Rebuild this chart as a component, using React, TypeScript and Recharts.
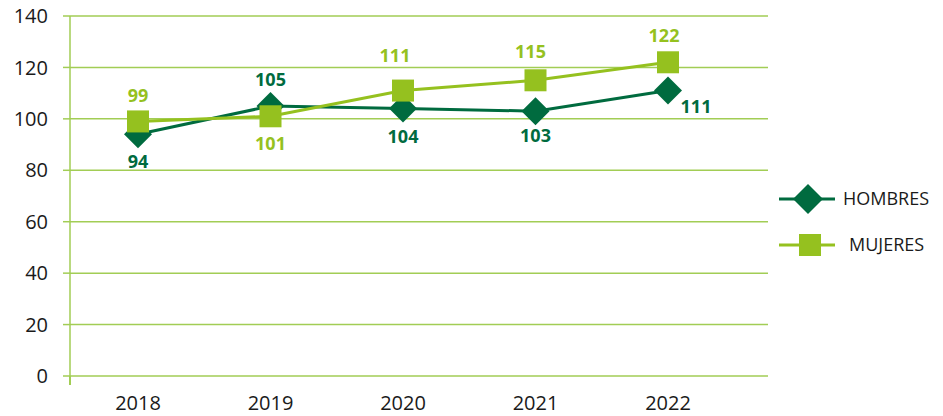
import React from 'react';
import { LineChart, Line, XAxis, YAxis, CartesianGrid, Legend, LabelList } from 'recharts';

const years = ['2018', '2019', '2020', '2021', '2022'];
const hombres = [94, 105, 104, 103, 111];
const mujeres = [99, 101, 111, 115, 122];
const yTicks = [0, 20, 40, 60, 80, 100, 120, 140];

const DARK = '#006b3f';
const LIGHT = '#95c11f';
const GRID = '#a2cd55';
const FONT = '"Open Sans", sans-serif';

const data = years.map((year, i) => ({ year, hombres: hombres[i], mujeres: mujeres[i] }));

// label offsets relative to each point
const hombresOffsets = [
  [0, 27], [0, -26], [0, 28], [0, 25], [28, 16],
];
const mujeresOffsets = [
  [0, -26], [0, 27], [-8, -35], [-5, -29], [-4, -27],
];

const Diamond = (props: any) => {
  const { cx, cy } = props;
  if (cx == null || cy == null) return null;
  const r = 14;
  return <path d={`M${cx},${cy - r}L${cx + r},${cy}L${cx},${cy + r}L${cx - r},${cy}Z`} fill={DARK} />;
};

const Square = (props: any) => {
  const { cx, cy } = props;
  if (cx == null || cy == null) return null;
  const s = 11;
  return <rect x={cx - s} y={cy - s} width={s * 2} height={s * 2} fill={LIGHT} />;
};

const makeLabel = (offsets: number[][], color: string) => (props: any) => {
  const { x, y, value, index } = props;
  const [dx, dy] = offsets[index] || [0, 0];
  return (
    <text x={x + dx} y={y + dy} dy="0.35em" textAnchor="middle" fill={color}
      fontFamily={FONT} fontSize={18} fontWeight={700}>
      {value}
    </text>
  );
};

const LegendBox = () => (
  <svg width={173} height={100}>
    <line x1={9} y1={29} x2={65} y2={29} stroke={DARK} strokeWidth={3} />
    <path d="M38,14L53,29L38,44L23,29Z" fill={DARK} />
    <text x={73} y={29} dy="0.35em" fontFamily={FONT} fontSize={18} fill="#1a1a1a">HOMBRES</text>
    <line x1={9} y1={75} x2={65} y2={75} stroke={LIGHT} strokeWidth={3} />
    <rect x={29} y={64} width={22} height={22} fill={LIGHT} />
    <text x={79} y={75} dy="0.35em" fontFamily={FONT} fontSize={18} fill="#1a1a1a">MUJERES</text>
  </svg>
);

// y axis line runs a little past the zero gridline
const AxisStub = (props: any) => {
  const { x, y, payload } = props;
  return (
    <g>
      <line x1={70} y1={y} x2={70} y2={y + 9} stroke={GRID} strokeWidth={1.5} />
      <text x={x} y={y + 27} dy="0.35em" textAnchor="middle" fill="#1a1a1a" fontSize={20} fontFamily={FONT}>
        {payload.value}
      </text>
    </g>
  );
};

export default function App() {
  return (
    <div style={{ position: 'absolute', left: 0, top: 0, width: 943, height: 416, background: '#fff' }}>
      <LineChart width={943} height={416} data={data} margin={{ top: 16, right: 175, bottom: 0, left: 0 }}>
        <CartesianGrid vertical={false} stroke={GRID} strokeWidth={1.5} />
        <XAxis dataKey="year" height={40} padding={{ left: 68, right: 100 }} axisLine={false} tickLine={false}
          tickSize={0} tickMargin={0} tick={<AxisStub />} />
        <YAxis width={70} domain={[0, 140]} ticks={yTicks} axisLine={{ stroke: GRID, strokeWidth: 1.5 }}
          tickLine={{ stroke: GRID, strokeWidth: 1.5 }} tickSize={7} tickMargin={15}
          tick={{ fill: '#1a1a1a', fontSize: 20, fontFamily: FONT }} />
        <Line dataKey="hombres" stroke={DARK} strokeWidth={3} dot={<Diamond />} activeDot={false}
          isAnimationActive={false}>
          <LabelList dataKey="hombres" content={makeLabel(hombresOffsets, DARK)} />
        </Line>
        <Line dataKey="mujeres" stroke={LIGHT} strokeWidth={3} dot={<Square />} activeDot={false}
          isAnimationActive={false}>
          <LabelList dataKey="mujeres" content={makeLabel(mujeresOffsets, LIGHT)} />
        </Line>
        <Legend layout="vertical" align="center" verticalAlign="middle" content={<LegendBox />}
          wrapperStyle={{ left: 770, top: 170, width: 173, height: 100 }} />
      </LineChart>
    </div>
  );
}
